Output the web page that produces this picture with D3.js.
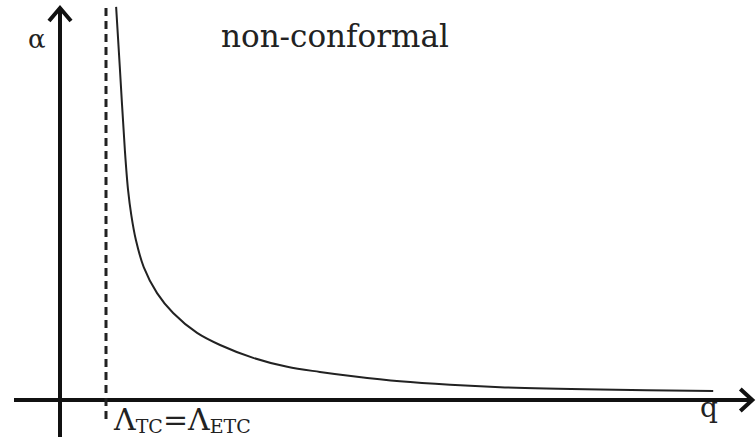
<!DOCTYPE html>
<html>
<head>
<meta charset="utf-8">
<script src="https://cdn.jsdelivr.net/npm/d3@7"></script>
<style>
  html, body { margin: 0; padding: 0; background: #fff; }
  svg { display: block; }
</style>
</head>
<body>
<svg id="chart" width="756" height="440"></svg>
<script>
// Coupling α versus scale q for the non-conformal case
const qValues     = [1.22, 1.30, 1.41, 1.48, 1.55, 1.65, 1.82, 2.11, 2.46, 2.98, 3.48, 4.20, 4.94, 5.65, 6.37, 7.39, 8.48, 9.57, 11.74, 14.2];
const alphaValues = [10.08, 8.54, 6.41, 5.38, 4.74, 4.10, 3.41, 2.74, 2.23, 1.72, 1.41, 1.08, 0.85, 0.72, 0.61, 0.48, 0.39, 0.33, 0.27, 0.23];

// Position of the threshold Λ_TC = Λ_ETC on the q axis
const lambdaQ = 1.0;

// Axis extents in data units
const qAxisRange = [-1.0, 15.05];
const alphaAxisRange = [-0.95, 10.05];

const FONT = "'DejaVu Serif', 'Liberation Serif', serif";

const svg = d3.select("#chart");

const x = d3.scaleLinear().domain([0, 15]).range([60, 750]);
const y = d3.scaleLinear().domain([0, 10]).range([400, 10]);

// Horizontal q axis
svg.append("line")
  .attr("x1", x(qAxisRange[0])).attr("x2", x(qAxisRange[1]) - 2)
  .attr("y1", y(0)).attr("y2", y(0))
  .attr("stroke", "#111").attr("stroke-width", 4);

// Arrowhead on q axis
const qTip = [x(qAxisRange[1]), y(0)];
svg.append("path")
  .attr("d", `M${qTip[0] - 12},${qTip[1] - 11} L${qTip[0]},${qTip[1]} L${qTip[0] - 12},${qTip[1] + 11}`)
  .attr("fill", "none").attr("stroke", "#111").attr("stroke-width", 4)
  .attr("stroke-linejoin", "miter");

// Vertical α axis
svg.append("line")
  .attr("x1", x(0)).attr("x2", x(0))
  .attr("y1", y(alphaAxisRange[0])).attr("y2", y(alphaAxisRange[1]) + 2)
  .attr("stroke", "#111").attr("stroke-width", 4);

// Arrowhead on α axis
const aTip = [x(0), y(alphaAxisRange[1])];
svg.append("path")
  .attr("d", `M${aTip[0] - 11},${aTip[1] + 13} L${aTip[0]},${aTip[1]} L${aTip[0] + 11},${aTip[1] + 13}`)
  .attr("fill", "none").attr("stroke", "#111").attr("stroke-width", 4)
  .attr("stroke-linejoin", "miter");

// Dashed threshold line
svg.append("line")
  .attr("x1", x(lambdaQ)).attr("x2", x(lambdaQ))
  .attr("y1", y(10.05)).attr("y2", y(-0.52))
  .attr("stroke", "#222").attr("stroke-width", 3)
  .attr("stroke-dasharray", "8,5");

// α(q) curve (centripetal Catmull-Rom keeps the steep branch smooth)
const pts = qValues.map((q, i) => [q, alphaValues[i]]);
const line = d3.line()
  .x(d => x(d[0]))
  .y(d => y(d[1]))
  .curve(d3.curveCatmullRom.alpha(0.5));

svg.append("path")
  .datum(pts)
  .attr("d", line)
  .attr("fill", "none")
  .attr("stroke", "#222")
  .attr("stroke-width", 2);

// Labels
const label = (px, py, size, str) =>
  svg.append("text")
    .attr("x", px).attr("y", py)
    .attr("font-family", FONT)
    .attr("font-size", size)
    .attr("fill", "#222")
    .text(str);

label(221, 47, 31, "non-conformal");
label(28, 48, 26, "α");
label(700, 417, 28, "q");

const lam = svg.append("text")
  .attr("x", 114).attr("y", 430)
  .attr("font-family", FONT)
  .attr("font-size", 30)
  .attr("fill", "#222");
lam.append("tspan").text("Λ");
lam.append("tspan").attr("font-size", 19).attr("dy", 3).text("TC");
lam.append("tspan").attr("dy", -3).text("=Λ");
lam.append("tspan").attr("font-size", 19).attr("dy", 3).text("ETC");
</script>
</body>
</html>
